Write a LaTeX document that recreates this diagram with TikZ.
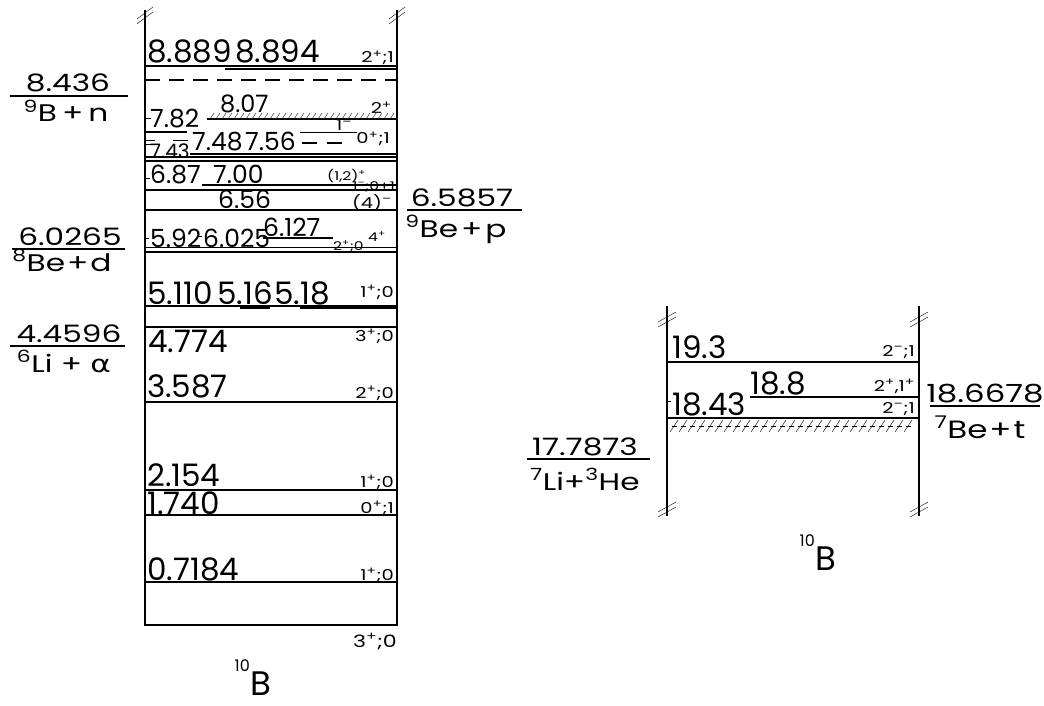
\documentclass[tikz,border=0pt]{standalone}
\usepackage{fontspec}
\setmainfont{Poppins}
\newfontfamily\widefont{Poppins}[FakeStretch=1.3]
\newfontfamily\grkfont{DejaVu Sans}[FakeStretch=1.3]
\newcommand\supx[1]{\textsuperscript{#1}}

\begin{document}
\begin{tikzpicture}[x=1pt,y=-1pt,
lvl/.style={line width=1.2pt},
wall/.style={line width=1.5pt},
big/.style={font=\fontsize{31}{31}\selectfont,inner sep=0pt,text depth=0pt,anchor=base west},
mid/.style={font=\fontsize{25}{25}\selectfont,inner sep=0pt,text depth=0pt,anchor=base west},
sml/.style={font=\fontsize{20}{20}\selectfont,inner sep=0pt,text depth=0pt,anchor=base west},
jp/.style={font=\widefont\fontsize{15}{15}\selectfont,inner sep=0pt,anchor=base east},
thr/.style={font=\widefont\fontsize{24}{24}\selectfont,inner sep=0pt,anchor=base}]
\useasboundingbox (0,0) rectangle (1044,706);
% left scheme
\draw[wall] (145,10)--(145,626);
\draw[wall] (397,10)--(397,626);
\foreach \x in {145,397} {\draw (\x-8,24)--(\x+8,12); \draw (\x-8,19)--(\x+8,7);}
\draw[lvl] (145,66)--(397,66);
\draw[line width=1.6pt] (225,69)--(397,69);
\draw[lvl,dash pattern=on 15pt off 9pt] (145,80)--(397,80);
\draw[lvl] (207,119)--(397,119);
\foreach \x in {210,216,...,392} \draw[thin] (\x,119)--(\x+4,113);
\draw (145,118)--(151,118);
\draw[lvl] (145,132)--(187,132);
\draw (300,132)--(357,132);
\draw (145,140)--(155,140) (145,144)--(155,144) (173,140)--(188,140);
\draw[lvl,dash pattern=on 15pt off 10pt] (302,143)--(345,143);
\draw[lvl] (190,154)--(397,154);
\draw[lvl] (145,157)--(397,157);
\draw[line width=2pt] (145,161)--(397,161);
\draw (145,178)--(150,178);
\draw[lvl] (202,185)--(397,185);
\draw[lvl] (145,190)--(397,190);
\draw[lvl] (145,210)--(397,210);
\draw[lvl] (263,238)--(333,238);
\draw (145,238)--(149,238) (197,236)--(202,236);
\draw (145,247)--(397,247);
\draw[lvl] (145,252)--(397,252);
\draw[lvl] (145,306)--(397,306);
\draw[line width=2pt] (240,308)--(270,308) (300,308)--(397,308);
\foreach \y in {327,402,490,515,582,625} \draw[lvl] (145,\y)--(397,\y);
\node[big] (e8889) at (147,63) {8.889};
\node[big] (e8894) at (235,63) {8.894};
\node[jp] (s8889) at (394,63) {2\supx{+};1};
\node[mid,font=\fontsize{24}{24}\selectfont] (e807) at (220,113) {8.07};
\node[jp] (s807) at (392,114) {2\supx{+}};
\node[mid] (e782) at (150,128) {7.82};
\node[jp,anchor=base west] (s1m) at (336,131) {1\supx{–}};
\node[mid] (e748) at (192,150) {7.48};
\node[mid] (e756) at (245,150) {7.56};
\node[sml] (e743) at (150,159) {7.43};
\node[jp] (s756) at (390,144) {0\supx{+};1};
\node[mid] (e687) at (150,183) {6.87};
\node[mid] (e700) at (213,183) {7.00};
\node[jp,anchor=base west,font=\widefont\fontsize{12}{12}\selectfont] (s700) at (327,180) {(1,2)\supx{+}};
\node[jp,font=\widefont\fontsize{12}{12}\selectfont] (s687) at (395,190) {1\supx{–};0+1};
\node[mid] (e656) at (218,208) {6.56};
\node[jp] (s656) at (392,208) {(4)\supx{–}};
\node[mid] (e592) at (150,247) {5.92};
\node[mid] (e6025) at (203,247) {6.025};
\node[mid] (e6127) at (263,236) {6.127};
\node[jp,anchor=base west,font=\widefont\fontsize{12}{12}\selectfont] (s6025) at (333,250) {2\supx{+};0};
\node[jp,anchor=base west,font=\widefont\fontsize{12}{12}\selectfont] (s6127) at (368,241) {4\supx{+}};
\node[big] (e5110) at (147,304) {5.110};
\node[big] (e516) at (217,304) {5.16};
\node[big] (e518) at (274,304) {5.18};
\node[jp] (s5110) at (394,297) {1\supx{+};0};
\node[big] (e4774) at (148,352) {4.774};
\node[jp] (s4774) at (394,341) {3\supx{+};0};
\node[big] (e3587) at (147,397) {3.587};
\node[jp] (s3587) at (394,398) {2\supx{+};0};
\node[big] (e2154) at (147,486) {2.154};
\node[jp] (s2154) at (394,487) {1\supx{+};0};
\node[big] (e1740) at (147,514) {1.740};
\node[jp] (s1740) at (394,513) {0\supx{+};1};
\node[big] (e0718) at (147,580) {0.7184};
\node[jp] (s0718) at (394,580) {1\supx{+};0};
\node[jp,font=\widefont\fontsize{17}{17}\selectfont] (sgs) at (397,647) {3\supx{+};0};
\node[big,font=\fontsize{34}{34}\selectfont] (nucl) at (250,695) {B};
\node[jp,anchor=base east,font=\fontsize{16}{16}\selectfont] at (nucl.north west) {10};
% thresholds
\draw[lvl] (10,96)--(128,96);
\node[thr] (t9bn) at (68,92) {8.436};
\node[thr] (c9bn) at (66,122) {\supx{9}B\hspace{5pt}+\hspace{5pt}n};
\draw[lvl] (12,249)--(125,249);
\node[thr] (t8bd) at (70,245) {6.0265};
\node[thr] (c8bd) at (62,271) {\supx{8}Be\hspace{2pt}+\hspace{2pt}d};
\draw[lvl] (10,346)--(125,346);
\node[thr] (t6la) at (69,342) {4.4596};
\node[thr] (c6la) at (64,372) {\supx{6}Li + {\grkfont α}};
\draw[lvl] (407,210)--(522,210);
\node[thr] (t9bp) at (462,206) {6.5857};
\node[thr] (c9bp) at (456,237) {\supx{9}Be\hspace{3pt}+\hspace{3pt}p};
% right scheme
\draw[wall] (667,306)--(667,516);
\draw[wall] (919,306)--(919,516);
\foreach \x in {667,919} \foreach \y in {316,506} {\draw (\x-9,\y+6)--(\x+9,\y-4); \draw (\x-9,\y+11)--(\x+9,\y+1);}
\draw[lvl] (667,362)--(919,362);
\draw[lvl] (750,397)--(919,397);
\draw[lvl] (667,418)--(919,418);
\draw (667,401)--(671,401);
\foreach \x in {670,679,...,910} {\draw (\x,432)--(\x+8,420); \draw (\x+2,426)--(\x+7,426);}
\node[big] (e193) at (672,358) {19.3};
\node[big] (e188) at (750,394) {18.8};
\node[big] (e1843) at (672,415) {18.43};
\node[jp] (s193) at (915,356) {2\supx{–};1};
\node[jp] (s188) at (915,391) {2\supx{+},1\supx{+}};
\node[jp] (s1843) at (915,413) {2\supx{–};1};
\draw[lvl] (527,459)--(650,459);
\node[thr] (t7lh) at (585,455) {17.7873};
\node[thr] (c7lh) at (585,490) {\supx{7}Li+\supx{3}He};
\draw[lvl] (930,406)--(1040,406);
\node[thr,font=\widefont\fontsize{25}{25}\selectfont] (t7bt) at (985,402) {18.6678};
\node[thr,font=\widefont\fontsize{25}{25}\selectfont] (c7bt) at (980,438) {\supx{7}Be\hspace{2pt}+\hspace{2pt}t};
\node[big,font=\fontsize{34}{34}\selectfont] (nuclr) at (815,570) {B};
\node[jp,anchor=base east,font=\fontsize{16}{16}\selectfont] at (nuclr.north west) {10};
\end{tikzpicture}
\end{document}
